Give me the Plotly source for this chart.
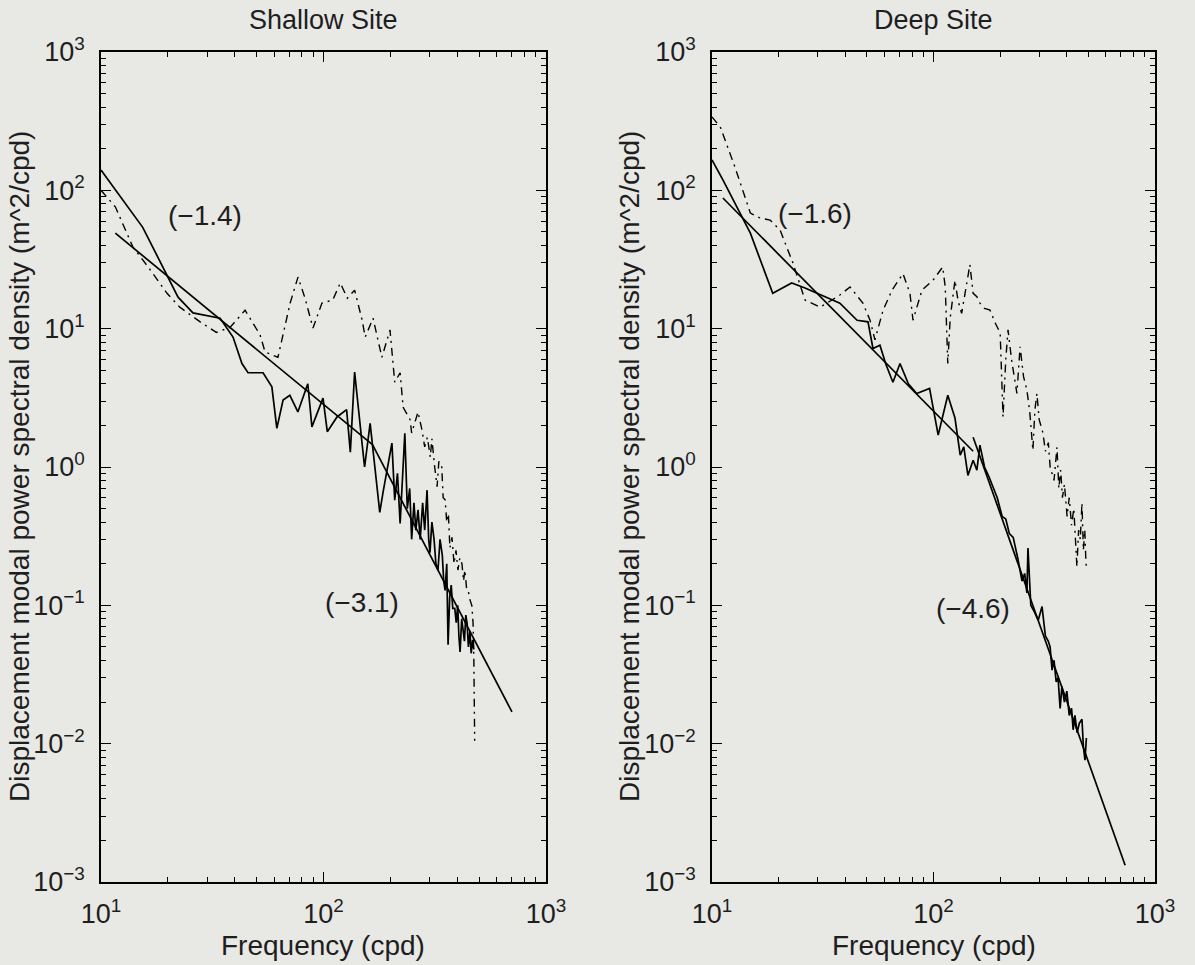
import plotly.graph_objects as go

# ---------------- data ----------------
# Shallow site, solid spectrum
sh_solid_f = [10, 15.4, 22.2, 25.9, 34.3, 39.2, 43, 45.8, 53.5, 58.6, 61.7, 65.8, 70.6, 76.7, 85, 88.7,
              99.5, 104, 115, 127, 132, 138, 149, 153, 162, 179, 185, 203, 209, 215, 221, 226, 232, 238,
              244, 249, 255, 260, 266, 272, 279, 285, 292, 297, 301, 307, 314, 320, 327, 334, 342, 347,
              352, 358, 363, 369, 375, 381, 389, 395, 401, 406, 411, 418, 424, 430, 436, 442, 448, 455,
              461, 468, 474]
sh_solid_p = [140, 54, 16.9, 13, 11.9, 8.7, 5.6, 4.8, 4.8, 3.8, 1.9, 3.05, 3.3, 2.5, 4.0, 1.95,
              3.15, 1.8, 2.3, 2.6, 1.28, 4.85, 1.49, 1.0, 2.07, 0.47, 0.65, 1.49, 0.575, 0.9, 0.39, 0.8, 1.75, 0.5,
              0.7, 0.3, 0.55, 0.35, 0.49, 0.3, 0.55, 0.35, 0.68, 0.3, 0.24, 0.4, 0.3, 0.2, 0.18, 0.3, 0.23, 0.15,
              0.128, 0.2, 0.052, 0.113, 0.14, 0.095, 0.095, 0.075, 0.1, 0.06, 0.046, 0.08, 0.066, 0.055, 0.085, 0.074, 0.05, 0.065,
              0.045, 0.056, 0.048]

# Shallow site, dash-dot spectrum
sh_dd_f = [10, 11.6, 13.9, 16.3, 19.8, 22.6, 27.9, 33, 38, 44.4, 51.9, 54.6, 62.4, 65.8, 70.8, 76.8,
           82.6, 89.7, 98.4, 110, 119, 128, 138, 149, 154, 167, 183, 199, 205, 209, 221, 228, 245, 249,
           266, 277, 285, 293, 302, 307, 316, 324, 330, 340, 345, 352, 358, 364, 370, 378, 386, 394, 402,
           410, 419, 426, 432, 440, 447, 455, 464, 470, 474, 478]
sh_dd_p = [100, 76, 39, 27.9, 18, 14.3, 11.2, 9.4, 10.2, 13.6, 9.0, 6.8, 6.2, 9.0, 15.3, 23.6,
           16.6, 10.1, 15.3, 16.1, 21.4, 16.6, 19, 11.6, 8.7, 11.9, 6.2, 9.8, 6.2, 4.1, 4.8, 2.7, 2.2, 1.76,
           2.5, 1.85, 1.4, 1.64, 1.18, 1.6, 1.0, 0.72, 1.1, 1.0, 0.6, 0.58, 0.4, 0.46, 0.26, 0.31, 0.2, 0.25, 0.18,
           0.22, 0.2, 0.15, 0.18, 0.13, 0.128, 0.11, 0.1, 0.075, 0.04, 0.0105]

# Shallow site, fitted power laws
sh_fit1_f = [11.6, 166]
sh_fit1_p = [49, 1.45]
sh_fit2_f = [166, 703]
sh_fit2_p = [1.45, 0.017]

# Deep site, solid spectrum
dp_solid_f = [10, 11.2, 14.9, 18.8, 22.9, 26.3, 29.8, 37.8, 45.2, 50.6, 53.3, 57.3, 61, 65.6, 70.6, 77,
              84, 96, 105, 116, 125, 132, 137, 143, 151, 157, 162, 170, 178, 186, 194, 204, 212, 220,
              229, 240, 251, 258, 264, 267, 275, 285, 297, 309, 320, 330, 336, 343, 350, 358, 365, 373,
              380, 390, 400, 410, 420, 427, 435, 445, 455, 468, 475, 483, 490]
dp_solid_p = [166, 119, 49, 18, 21.4, 19.7, 18, 15.3, 11.5, 11.2, 7.2, 7.6, 5.5, 4.1, 5.6, 4.0,
              3.4, 3.7, 1.7, 3.3, 2.26, 1.22, 1.4, 0.87, 1.12, 0.95, 1.44, 1.0, 0.85, 0.72, 0.6, 0.44, 0.42, 0.33,
              0.31, 0.22, 0.15, 0.17, 0.123, 0.26, 0.1, 0.09, 0.078, 0.098, 0.06, 0.055, 0.05, 0.034, 0.04, 0.028, 0.03, 0.018,
              0.026, 0.02, 0.024, 0.016, 0.018, 0.0126, 0.016, 0.012, 0.014, 0.015, 0.0095, 0.0076, 0.011]

# Deep site, dash-dot spectrum
dp_dd_f = [10, 10.9, 12.7, 14.9, 16.5, 18.3, 20.3, 23.2, 26.3, 30.8, 37.8, 42, 48, 51.7, 54.4, 59.2,
           65, 72.8, 78.3, 80.8, 88.7, 99.5, 110, 113, 116, 119, 125, 129, 134, 140, 146, 151, 157, 162,
           170, 180, 190, 200, 206, 212, 217, 225, 238, 246, 255, 264, 272, 281, 287, 293, 300, 312, 320,
           330, 337, 343, 350, 361, 368, 375, 382, 390, 401, 410, 420, 430, 437, 444, 452, 460, 468, 475,
           482, 488, 493]
dp_dd_p = [339, 287, 147, 68.5, 63, 61, 51.6, 29.8, 16.1, 14.3, 17.5, 20, 15.3, 11.5, 8.3, 13.6,
           19, 25, 18, 11.5, 19, 22.4, 27.9, 20, 5.6, 12, 22.4, 16, 12.9, 20, 29, 18, 17, 15.3,
           14, 13.6, 11, 9.3, 2.3, 6, 9.8, 6, 3.4, 7.4, 4.5, 3.6, 2.5, 1.32, 2.6, 3.4, 2.2, 1.76, 1.3,
           1.5, 0.95, 0.9, 0.8, 1.39, 0.7, 0.95, 0.6, 0.75, 0.44, 0.6, 0.38, 0.5, 0.3, 0.19, 0.35, 0.3, 0.55, 0.25,
           0.35, 0.2, 0.18]

# Deep site, fitted power laws
dp_fit1_f = [11.2, 151]
dp_fit1_p = [88, 1.30]
dp_fit2_f = [151, 733]
dp_fit2_p = [1.64, 0.00132]

titles = ["Shallow Site", "Deep Site"]
slope_labels = [["(\u22121.4)", "(\u22123.1)"], ["(\u22121.6)", "(\u22124.6)"]]
x_tickvals = [10, 100, 1000]
x_ticktext = ["10<sup>1</sup>", "10<sup>2</sup>", "10<sup>3</sup>"]
y_tickvals = [1e-3, 1e-2, 1e-1, 1, 10, 100, 1000]
y_ticktext = ["10<sup>\u22123</sup>", "10<sup>\u22122</sup>", "10<sup>\u22121</sup>", "10<sup>0</sup>",
              "10<sup>1</sup>", "10<sup>2</sup>", "10<sup>3</sup>"]
x_minor = [m * 10 ** e for e in (1, 2) for m in range(2, 10)]
y_minor = [m * 10.0 ** e for e in (-3, -2, -1, 0, 1, 2) for m in range(2, 10)]
xlabel = "Frequency (cpd)"
ylabel = "Displacement modal power spectral density (m^2/cpd)"

# ---------------- figure ----------------
W, H = 1195, 965
BG = "#e8e8e5"
FONT = "Liberation Sans, Arial, Helvetica, sans-serif"
TXT = "#1e1e1e"
solid = dict(color="black", width=1.7)
dashdot = dict(color="black", width=1.4, dash="8px,5px,2px,5px")

fig = go.Figure()
panels = [
    ("x", "y", sh_solid_f, sh_solid_p, sh_dd_f, sh_dd_p, [(sh_fit1_f, sh_fit1_p), (sh_fit2_f, sh_fit2_p)]),
    ("x2", "y2", dp_solid_f, dp_solid_p, dp_dd_f, dp_dd_p, [(dp_fit1_f, dp_fit1_p), (dp_fit2_f, dp_fit2_p)]),
]
for xa, ya, sf, sp, df, dpv, fits in panels:
    fig.add_trace(go.Scatter(x=df, y=dpv, mode="lines", line=dashdot, xaxis=xa, yaxis=ya, showlegend=False))
    fig.add_trace(go.Scatter(x=sf, y=sp, mode="lines", line=solid, xaxis=xa, yaxis=ya, showlegend=False))
    for ff, fp in fits:
        fig.add_trace(go.Scatter(x=ff, y=fp, mode="lines", line=solid, xaxis=xa, yaxis=ya, showlegend=False))

x_domains = [[101 / W, 546 / W], [712 / W, 1155 / W]]
y_domain = [1 - 882 / H, 1 - 52 / H]

axis_common = dict(
    type="log", showgrid=False, zeroline=False, showline=True, linecolor="black", linewidth=1.5,
    mirror="allticks", ticks="inside", ticklen=10, tickwidth=1.3, tickcolor="black", automargin=False,
    tickfont=dict(family=FONT, size=27, color=TXT),
)
layout = dict(
    width=W, height=H, paper_bgcolor=BG, plot_bgcolor=BG,
    margin=dict(l=0, r=0, t=0, b=0, pad=0), showlegend=False,
    font=dict(family=FONT, color=TXT),
)
for i, (xa, ya) in enumerate([("xaxis", "yaxis"), ("xaxis2", "yaxis2")]):
    anchor_x = "x" if i == 0 else "x2"
    anchor_y = "y" if i == 0 else "y2"
    layout[xa] = dict(axis_common, domain=x_domains[i], range=[1, 3], anchor=anchor_y,
                      tickmode="array", tickvals=x_tickvals, ticktext=x_ticktext, ticklabelstandoff=7,
                      minor=dict(tickmode="array", tickvals=x_minor, ticks="inside", ticklen=5,
                                 tickwidth=1.1, tickcolor="black", showgrid=False))
    layout[ya] = dict(axis_common, domain=y_domain, range=[-3, 3], anchor=anchor_x,
                      tickmode="array", tickvals=y_tickvals, ticktext=y_ticktext, ticklabelstandoff=9,
                      minor=dict(tickmode="array", tickvals=y_minor, ticks="inside", ticklen=5,
                                 tickwidth=1.1, tickcolor="black", showgrid=False))
fig.update_layout(**layout)

ann = []
label_font = dict(family=FONT, size=28, color=TXT)
title_font = dict(family=FONT, size=27, color=TXT)
for i in range(2):
    cx = (x_domains[i][0] + x_domains[i][1]) / 2
    ann.append(dict(text=titles[i], x=cx, y=1 - 20 / H, xref="paper", yref="paper",
                    showarrow=False, font=title_font, xanchor="center", yanchor="middle"))
    ann.append(dict(text=xlabel, x=cx, y=1 - 945 / H, xref="paper", yref="paper",
                    showarrow=False, font=label_font, xanchor="center", yanchor="middle"))
    ylx = [19, 629][i]
    ann.append(dict(text=ylabel, x=ylx / W, y=(y_domain[0] + y_domain[1]) / 2, xref="paper", yref="paper",
                    showarrow=False, font=label_font, textangle=-90, xanchor="center", yanchor="middle"))

# slope labels (positions in log10 units of the axes)
slope_pos = [[(1.467, 1.821), (2.173, -0.977)], [(1.465, 1.836), (2.178, -1.02)]]
for i in range(2):
    xr = "x" if i == 0 else "x2"
    yr = "y" if i == 0 else "y2"
    for j in range(2):
        ann.append(dict(text=slope_labels[i][j], x=slope_pos[i][j][0], y=slope_pos[i][j][1], xref=xr, yref=yr,
                        showarrow=False, font=label_font, xanchor="center", yanchor="middle"))
fig.update_layout(annotations=ann)

fig.write_html(
    "out.html",
    config={"displayModeBar": False},
    post_script="document.body.style.margin='0';document.body.style.background='%s';" % BG,
)
